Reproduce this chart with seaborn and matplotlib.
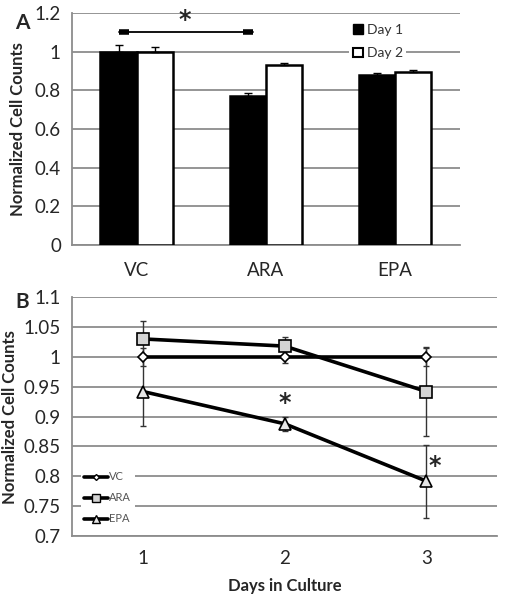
import numpy as np
import pandas as pd
import matplotlib
matplotlib.use("Agg")
import matplotlib.pyplot as plt
import seaborn as sns
from matplotlib.lines import Line2D
from matplotlib.patches import Patch

# ---- data panel A ----
treatments = ["VC", "ARA", "EPA"]
day1_vals = [1.0, 0.77, 0.88]
day1_err = [0.035, 0.015, 0.01]
day2_vals = [1.0, 0.93, 0.895]
day2_err = [0.025, 0.012, 0.01]
day_labels = ["Day 1", "Day 2"]
a_yticks = [0, 0.2, 0.4, 0.6, 0.8, 1, 1.2]

# ---- data panel B ----
days = [1, 2, 3]
vc_vals = [1.0, 1.0, 1.0]
vc_err = [0.015, 0.01, 0.015]
ara_vals = [1.03, 1.018, 0.942]
ara_err = [0.03, 0.015, 0.075]
epa_vals = [0.942, 0.888, 0.792]
epa_err = [0.057, 0.012, 0.061]
b_yticks = [0.7, 0.75, 0.8, 0.85, 0.9, 0.95, 1, 1.05, 1.1]
b_ytick_labels = ["0.7", "0.75", "0.8", "0.85", "0.9", "0.95", "1", "1.05", "1.1"]

sns.set_theme(style="white")
plt.rcParams['font.family'] = ['Lato', 'DejaVu Sans']

fig = plt.figure(figsize=(5.05, 5.99), dpi=100)
axA = fig.add_axes([0.1426, 0.591, 0.768, 0.387])
axB = fig.add_axes([0.1426, 0.105, 0.842, 0.399])

grid_c = "#8c8c8c"
tick_fs = 13.5
lab_fs = 12

# ---------- Panel A ----------
dfA = pd.DataFrame({
    "Treatment": treatments * 2,
    "Value": day1_vals + day2_vals,
    "Day": [day_labels[0]] * 3 + [day_labels[1]] * 3,
})
sns.barplot(data=dfA, x="Treatment", y="Value", hue="Day", ax=axA,
            palette=["black", "white"], edgecolor="black", linewidth=1.8,
            width=0.56, errorbar=None, legend=False, zorder=3)
patches = [p for p in axA.patches if p.get_height() > 0]
patches = sorted(patches, key=lambda p: p.get_x())
errs = [day1_err[0], day2_err[0], day1_err[1], day2_err[1], day1_err[2], day2_err[2]]
vals = [day1_vals[0], day2_vals[0], day1_vals[1], day2_vals[1], day1_vals[2], day2_vals[2]]
for p, v, e in zip(patches, vals, errs):
    cx = p.get_x() + p.get_width() / 2
    axA.errorbar(cx, v, yerr=[[0], [e]], fmt="none", ecolor="black",
                 elinewidth=1.0, capsize=3, capthick=1.0, zorder=4)

axA.set_ylim(0, 1.2)
axA.set_xlim(-0.5, 2.5)
axA.set_yticks(a_yticks)
axA.set_yticklabels(["0", "0.2", "0.4", "0.6", "0.8", "1", "1.2"], fontsize=tick_fs)
axA.set_xticks([0, 1, 2])
axA.set_xticklabels(treatments, fontsize=tick_fs)
axA.set_xticks([-0.5, 0.5, 1.5, 2.5], minor=True)
axA.tick_params(axis="x", which="major", length=0, pad=12)
axA.tick_params(axis="x", which="minor", length=4, color=grid_c, width=1.2)
axA.tick_params(axis="y", length=5, color=grid_c, width=1.2, pad=3)
axA.set_xlabel("")
axA.set_ylabel("Normalized Cell Counts", fontsize=lab_fs, fontweight="bold", labelpad=6)
axA.yaxis.grid(True, color=grid_c, lw=1.3, zorder=0)
axA.set_axisbelow(True)
for s in ["top", "right"]:
    axA.spines[s].set_visible(False)
for s in ["left", "bottom"]:
    axA.spines[s].set_color(grid_c)
    axA.spines[s].set_linewidth(1.3)

# significance bracket
axA.plot([-0.14, 0.9], [1.1, 1.1], color="black", lw=1.3, zorder=5)
axA.plot([-0.14, -0.06], [1.1, 1.1], color="black", lw=4, solid_capstyle="butt", zorder=5)
axA.plot([0.82, 0.9], [1.1, 1.1], color="black", lw=4, solid_capstyle="butt", zorder=5)
axA.text(0.37, 1.1, "*", ha="center", va="bottom", fontsize=17, fontweight="bold",
         family="DejaVu Sans")

legA = axA.legend(handles=[Patch(facecolor="black", edgecolor="black", label=day_labels[0]),
                           Patch(facecolor="white", edgecolor="black", lw=1.5, label=day_labels[1])],
                  loc="upper left", bbox_to_anchor=(0.715, 0.97), frameon=True, fontsize=10,
                  handlelength=0.7, handleheight=0.7, handletextpad=0.3, labelspacing=0.85,
                  borderpad=0.25, borderaxespad=0)
legA.get_frame().set_edgecolor("white")
legA.get_frame().set_facecolor("white")
legA.get_frame().set_alpha(1)
legA.get_frame().set_linewidth(0)
for t in legA.get_texts():
    t.set_color("#333333")

# ---------- Panel B ----------
series = [
    ("VC", vc_vals, vc_err, "D", "white", 5),
    ("ARA", ara_vals, ara_err, "s", "#d4d4d4", 9),
    ("EPA", epa_vals, epa_err, "^", "#e6e6e6", 9),
]
handles = []
for name, v, e, m, fc, ms in series:
    dfB = pd.DataFrame({"Day": days, "Value": v})
    axB.errorbar(days, v, yerr=e, fmt="none", ecolor="#333333", elinewidth=1.0,
                 capsize=2.5, capthick=1.0, zorder=3)
    sns.lineplot(data=dfB, x="Day", y="Value", ax=axB, color="black", lw=2.6,
                 marker=m, markersize=ms, markerfacecolor=fc, markeredgecolor="black",
                 markeredgewidth=1.2, zorder=4, legend=False)
    handles.append(Line2D([0], [0], color="black", lw=2.6, marker=m,
                          markersize=ms * 0.6, markerfacecolor=fc,
                          markeredgecolor="black", markeredgewidth=1.0, label=name))

axB.text(2.0, 0.902, "*", ha="center", va="bottom", fontsize=17, fontweight="bold",
         family="DejaVu Sans")
axB.text(3.06, 0.798, "*", ha="center", va="bottom", fontsize=17, fontweight="bold",
         family="DejaVu Sans")

axB.set_xlim(0.5, 3.5)
axB.set_ylim(0.7, 1.1)
axB.set_yticks(b_yticks)
axB.set_yticklabels(b_ytick_labels, fontsize=tick_fs)
axB.set_xticks(days)
axB.set_xticklabels([str(d) for d in days], fontsize=tick_fs)
axB.set_xticks([0.5, 1.5, 2.5, 3.5], minor=True)
axB.tick_params(axis="x", which="major", length=0, pad=10)
axB.tick_params(axis="x", which="minor", length=4, color=grid_c, width=1.2)
axB.tick_params(axis="y", length=5, color=grid_c, width=1.2, pad=3)
axB.set_xlabel("Days in Culture", fontsize=lab_fs, fontweight="bold", labelpad=8)
axB.set_ylabel("Normalized Cell Counts", fontsize=lab_fs, fontweight="bold", labelpad=4)
axB.yaxis.grid(True, color=grid_c, lw=1.3, zorder=0)
axB.set_axisbelow(True)
for s in ["top", "right"]:
    axB.spines[s].set_visible(False)
for s in ["left", "bottom"]:
    axB.spines[s].set_color(grid_c)
    axB.spines[s].set_linewidth(1.3)

legB = axB.legend(handles=handles, loc="lower left", bbox_to_anchor=(0.02, 0.035),
                  frameon=True, fontsize=8, handlelength=2.2, handletextpad=0.1,
                  labelspacing=0.9, borderpad=0.3, borderaxespad=0)
legB.get_frame().set_edgecolor("white")
legB.get_frame().set_facecolor("white")
legB.get_frame().set_alpha(1)
legB.get_frame().set_linewidth(0)
for t in legB.get_texts():
    t.set_color("#555555")

fig.text(0.03, 0.962, "A", fontsize=15, fontweight="bold", ha="left", va="center")
fig.text(0.03, 0.496, "B", fontsize=15, fontweight="bold", ha="left", va="center")

fig.savefig("out.png", dpi=100)
